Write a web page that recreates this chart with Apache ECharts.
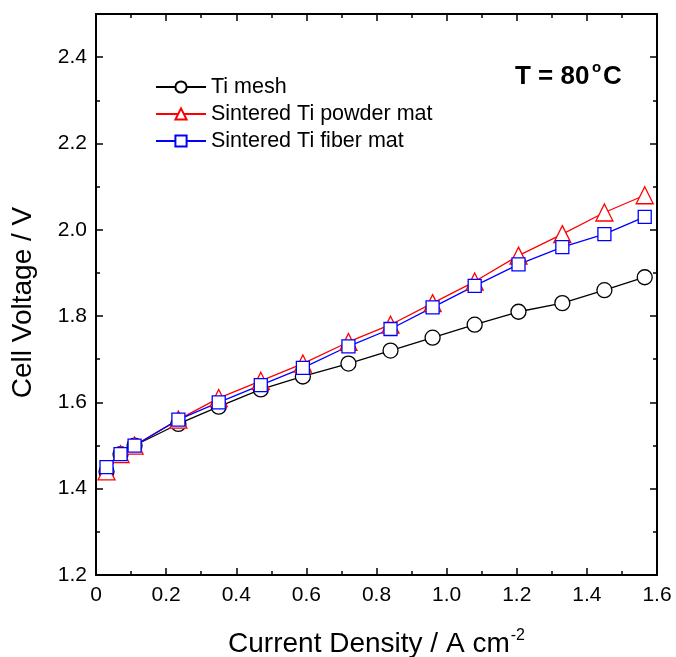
<!DOCTYPE html>
<html>
<head>
<meta charset="utf-8">
<script src="https://cdn.jsdelivr.net/npm/echarts@6/dist/echarts.min.js"></script>
<style>
  html, body { margin: 0; padding: 0; background: #fff; }
  #root { width: 676px; height: 657px; }
</style>
</head>
<body>
<div id="root"></div>
<script>
const currentDensity = [0.03, 0.07, 0.11, 0.235, 0.35, 0.47, 0.59, 0.72, 0.84, 0.96, 1.08, 1.205, 1.33, 1.45, 1.565]
const tiMesh = [1.44, 1.48, 1.50, 1.55, 1.59, 1.63, 1.66, 1.69, 1.72, 1.75, 1.78, 1.81, 1.83, 1.86, 1.89]
const powderMat = [1.44, 1.48, 1.50, 1.56, 1.61, 1.65, 1.69, 1.74, 1.78, 1.83, 1.88, 1.94, 1.99, 2.04, 2.08]
const fiberMat = [1.45, 1.48, 1.50, 1.56, 1.60, 1.64, 1.68, 1.73, 1.77, 1.82, 1.87, 1.92, 1.96, 1.99, 2.03]
const seriesNames = ['Ti mesh', 'Sintered Ti powder mat', 'Sintered Ti fiber mat']

const font = 'Liberation Sans, Arial, sans-serif'
const pairs = (ys) => currentDensity.map((x, i) => [x, ys[i]])

const axisBase = {
  axisLine: { show: true, onZero: false, lineStyle: { color: '#000', width: 2 } },
  axisTick: { show: true, inside: true, length: 7, lineStyle: { color: '#000', width: 1.5 } },
  minorTick: { show: true, splitNumber: 2, length: 4, lineStyle: { color: '#000', width: 1.5 } },
  splitLine: { show: false }
}

function lineSeries (name, data, color, symbol, size) {
  return {
    name,
    type: 'line',
    data,
    xAxisIndex: 0,
    yAxisIndex: 0,
    symbol,
    symbolSize: size,
    showAllSymbol: true,
    lineStyle: { color, width: 1.3 },
    itemStyle: { color: '#fff', borderColor: color, borderWidth: 1.3 },
    emphasis: { disabled: true },
    animation: false
  }
}

// the "T = 80 °C" note, pieces placed so the degree sign sits raised
const boldText = (text, left, top, size) => ({
  type: 'text',
  left,
  top,
  style: { text, fontFamily: font, fontSize: size, fontWeight: 'bold', fill: '#000' }
})

const chart = echarts.init(document.getElementById('root'))
chart.setOption({
  backgroundColor: '#fff',
  animation: false,
  grid: { left: 96, right: 19, top: 14, bottom: 82, containLabel: false, outerBoundsMode: 'none' },
  legend: {
    data: seriesNames,
    orient: 'vertical',
    left: 150,
    top: 71,
    itemWidth: 50,
    itemHeight: 14,
    itemGap: 5,
    textStyle: { fontFamily: font, fontSize: 21.5, color: '#000' }
  },
  xAxis: [
    Object.assign({}, axisBase, {
      type: 'value',
      position: 'bottom',
      min: 0,
      max: 1.6,
      interval: 0.2,
      axisLabel: {
        color: '#000', fontFamily: font, fontSize: 21, margin: 10,
        formatter: (v) => v === 0 ? '0' : v.toFixed(1)
      },
      name: '{t|Current Density / A cm}{s|-2}',
      nameLocation: 'middle',
      nameGap: 53,
      nameTextStyle: {
        rich: {
          t: { fontFamily: font, fontSize: 28, color: '#000' },
          s: { fontFamily: font, fontSize: 16, color: '#000', verticalAlign: 'top', padding: [0, 0, 16, 1] }
        }
      }
    }),
    Object.assign({}, axisBase, {
      type: 'value',
      position: 'top',
      min: 0,
      max: 1.6,
      interval: 0.2,
      axisLabel: { show: false }
    })
  ],
  yAxis: [
    Object.assign({}, axisBase, {
      type: 'value',
      position: 'left',
      min: 1.2,
      max: 2.5,
      interval: 0.2,
      axisLabel: {
        color: '#000', fontFamily: font, fontSize: 21, margin: 9,
        formatter: (v) => Math.abs(v - 2.5) < 1e-6 ? '' : v.toFixed(1)
      },
      name: 'Cell Voltage / V',
      nameLocation: 'middle',
      nameGap: 59,
      nameTextStyle: { fontFamily: font, fontSize: 28, color: '#000', padding: [0, 16, 0, 0] }
    }),
    Object.assign({}, axisBase, {
      type: 'value',
      position: 'right',
      min: 1.2,
      max: 2.5,
      interval: 0.2,
      axisLabel: { show: false }
    })
  ],
  graphic: [
    boldText('T = 80', 515, 64, 26),
    boldText('o', 592, 60, 15),
    boldText('C', 603, 64, 26)
  ],
  series: [
    lineSeries(seriesNames[0], pairs(tiMesh), '#000', 'circle', 15),
    lineSeries(seriesNames[1], pairs(powderMat), '#ff0000', 'triangle', 17),
    lineSeries(seriesNames[2], pairs(fiberMat), '#0000ff', 'rect', 13)
  ]
})
</script>
</body>
</html>
